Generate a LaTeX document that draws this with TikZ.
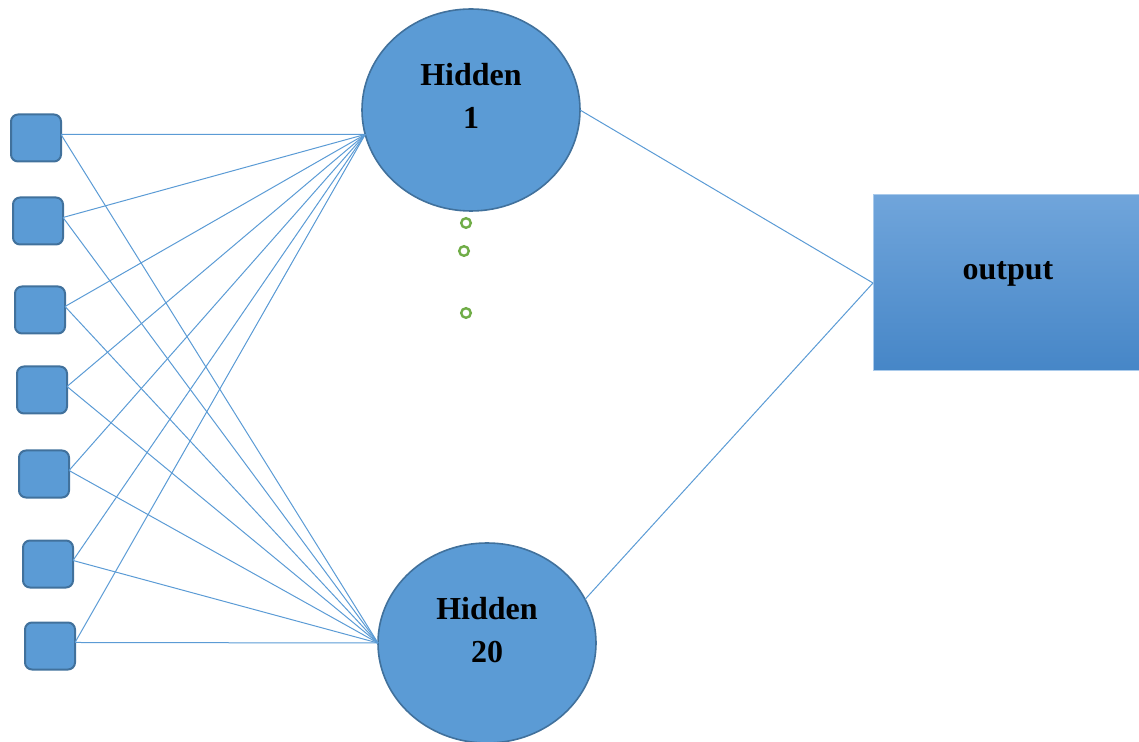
\documentclass[tikz,border=0pt]{standalone}
\usepackage{fontspec}
\setmainfont{Liberation Serif}
\usetikzlibrary{shapes.geometric}
\definecolor{nodeblue}{HTML}{5B9BD5}
\definecolor{rimblue}{HTML}{41719C}
\definecolor{outtop}{HTML}{70A5DB}
\definecolor{outbot}{HTML}{4686C7}
\definecolor{outrim}{HTML}{A9CAEB}
\definecolor{dotgreen}{HTML}{70AD47}

\begin{document}
\begin{tikzpicture}[x=0.5pt, y=-0.5pt,
  inbox/.style={draw=rimblue, line width=1pt, fill=nodeblue, rounded corners=3.5pt,
    minimum width=25pt, minimum height=23.5pt, inner sep=0pt, outer sep=0pt},
  hid/.style={ellipse, draw=rimblue, line width=0.8pt, fill=nodeblue,
    minimum width=109pt, minimum height=101pt, inner sep=0pt, outer sep=0pt},
  hidtext/.style={align=center, font=\fontsize{16}{21.5}\selectfont\bfseries},
  outbox/.style={draw=outrim, line width=0.5pt, top color=outtop, bottom color=outbot,
    minimum width=133pt, minimum height=88pt, inner sep=0pt, outer sep=0pt},
  wire/.style={draw=nodeblue, line width=0.5pt},
  gap/.style={circle, draw=dotgreen, line width=1.2pt, fill=white, minimum size=4.8pt, inner sep=0pt}]
\useasboundingbox (0,0) rectangle (1139,742);

% inputs
\node[inbox] (in1) at (36,138) {};
\node[inbox] (in2) at (38,221) {};
\node[inbox] (in3) at (40,310) {};
\node[inbox] (in4) at (42,390) {};
\node[inbox] (in5) at (44,474) {};
\node[inbox] (in6) at (48,564) {};
\node[inbox] (in7) at (50,646) {};

% hidden layer
\node[hid] (h1) at (471,110) {};
\node[hid, minimum height=100pt] (h20) at (487,643) {};
\node[hidtext] (h1t) at ([yshift=7pt]h1.center) {Hidden\\1};
\node[hidtext] (h20t) at ([yshift=6.5pt]h20.center) {Hidden\\20};

\node[gap] (d1) at (466,223) {};
\node[gap] (d2) at (464,251) {};
\node[gap] (d3) at (466,313) {};

% output
\node[outbox] (out) at (1006,283) {};
\node[hidtext] (outt) at ([xshift=1pt,yshift=4.5pt]out.center) {output};

\foreach \i in {1,...,7} {
  \draw[wire] (in\i.8) -- (h1.193);
  \draw[wire] (in\i.8) -- (h20.west);
}
\draw[wire] (h1.east) -- (out.west);
\draw[wire] (h20.24) -- (out.west);
\end{tikzpicture}
\end{document}
